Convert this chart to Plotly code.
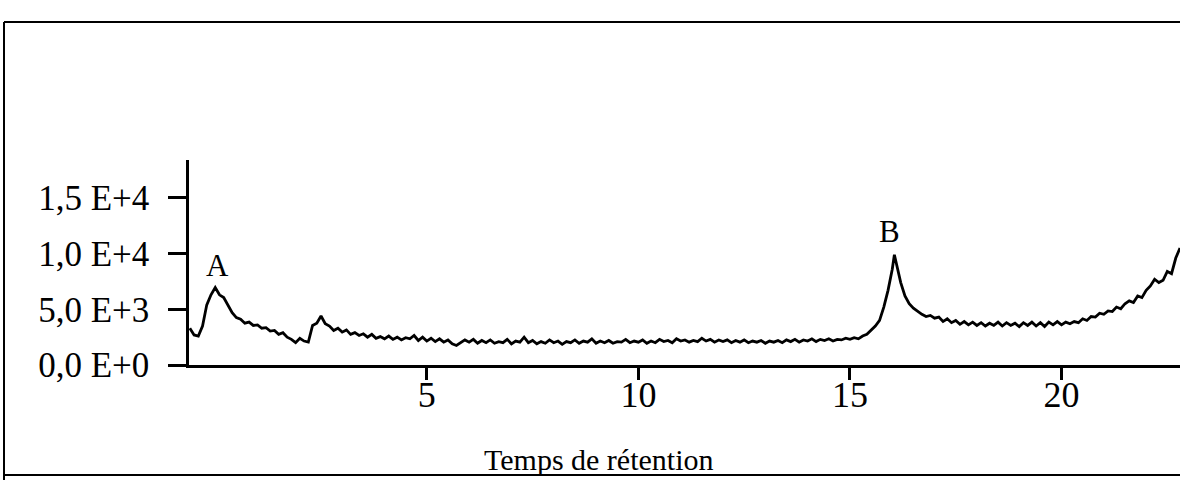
import plotly.graph_objects as go

# retention time (min) and detector signal
temps = [
    -0.6, -0.5, -0.4, -0.3, -0.2, -0.1, 0.0, 0.1, 0.2, 0.3,
    0.4, 0.5, 0.6, 0.7, 0.8, 0.9, 1.0, 1.1, 1.2, 1.3,
    1.4, 1.5, 1.6, 1.7, 1.8, 1.9, 2.0, 2.1, 2.2, 2.3,
    2.4, 2.5, 2.6, 2.7, 2.8, 2.9, 3.0, 3.1, 3.2, 3.3,
    3.4, 3.5, 3.6, 3.7, 3.8, 3.9, 4.0, 4.1, 4.2, 4.3,
    4.4, 4.5, 4.6, 4.7, 4.8, 4.9, 5.0, 5.1, 5.2, 5.3,
    5.4, 5.5, 5.6, 5.7, 5.8, 5.9, 6.0, 6.1, 6.2, 6.3,
    6.4, 6.5, 6.6, 6.7, 6.8, 6.9, 7.0, 7.1, 7.2, 7.3,
    7.4, 7.5, 7.6, 7.7, 7.8, 7.9, 8.0, 8.1, 8.2, 8.3,
    8.4, 8.5, 8.6, 8.7, 8.8, 8.9, 9.0, 9.1, 9.2, 9.3,
    9.4, 9.5, 9.6, 9.7, 9.8, 9.9, 10.0, 10.1, 10.2, 10.3,
    10.4, 10.5, 10.6, 10.7, 10.8, 10.9, 11.0, 11.1, 11.2, 11.3,
    11.4, 11.5, 11.6, 11.7, 11.8, 11.9, 12.0, 12.1, 12.2, 12.3,
    12.4, 12.5, 12.6, 12.7, 12.8, 12.9, 13.0, 13.1, 13.2, 13.3,
    13.4, 13.5, 13.6, 13.7, 13.8, 13.9, 14.0, 14.1, 14.2, 14.3,
    14.4, 14.5, 14.6, 14.7, 14.8, 14.9, 15.0, 15.1, 15.2, 15.3,
    15.4, 15.5, 15.6, 15.7, 15.8, 15.9, 16.0, 16.05, 16.1, 16.2,
    16.3, 16.4, 16.5, 16.6, 16.7, 16.8, 16.9, 17.0, 17.1, 17.2,
    17.3, 17.4, 17.5, 17.6, 17.7, 17.8, 17.9, 18.0, 18.1, 18.2,
    18.3, 18.4, 18.5, 18.6, 18.7, 18.8, 18.9, 19.0, 19.1, 19.2,
    19.3, 19.4, 19.5, 19.6, 19.7, 19.8, 19.9, 20.0, 20.1, 20.2,
    20.3, 20.4, 20.5, 20.6, 20.7, 20.8, 20.9, 21.0, 21.1, 21.2,
    21.3, 21.4, 21.5, 21.6, 21.7, 21.8, 21.9, 22.0, 22.1, 22.2,
    22.3, 22.4, 22.5, 22.6, 22.7, 22.8,
]
signal = [
    3300, 2700, 2600, 3500, 5400, 6300, 6950, 6300, 6050, 5350,
    4700, 4250, 4100, 3750, 3850, 3550, 3600, 3300, 3350, 3050,
    3100, 2750, 2900, 2500, 2300, 2000, 2400, 2150, 2050, 3550,
    3750, 4400, 3700, 3500, 3100, 3300, 2950, 3150, 2750, 2900,
    2650, 2800, 2500, 2750, 2400, 2550, 2350, 2600, 2300, 2500,
    2250, 2450, 2350, 2650, 2200, 2500, 2150, 2400, 2100, 2350,
    2050, 2250, 1900, 1750, 2000, 2250, 2050, 2300, 1950, 2200,
    2000, 2250, 1950, 2100, 2000, 2300, 1900, 2150, 2050, 2500,
    2000, 2200, 1900, 2100, 1950, 2250, 2000, 2150, 1850, 2100,
    2000, 2250, 1950, 2150, 2050, 2350, 1950, 2150, 2000, 2200,
    1950, 2100, 2050, 2300, 2000, 2150, 2050, 2250, 1950, 2150,
    2000, 2300, 2100, 2200, 2000, 2350, 2150, 2250, 2050, 2200,
    2100, 2400, 2150, 2300, 2050, 2250, 2100, 2250, 2000, 2200,
    2050, 2250, 2000, 2150, 2050, 2200, 1950, 2150, 2050, 2200,
    2000, 2250, 2100, 2300, 2050, 2250, 2150, 2350, 2100, 2300,
    2200, 2350, 2150, 2300, 2250, 2400, 2300, 2450, 2350, 2600,
    2750, 3100, 3500, 4000, 5200, 6700, 8600, 9900, 9000, 7400,
    6200, 5500, 5100, 4800, 4550, 4350, 4450, 4200, 4300, 3900,
    4150, 3800, 4000, 3650, 3900, 3600, 3850, 3550, 3800, 3500,
    3750, 3550, 3850, 3500, 3800, 3550, 3750, 3450, 3800, 3550,
    3850, 3500, 3800, 3450, 3850, 3600, 3900, 3600, 3850, 3700,
    3900, 3800, 4150, 4000, 4350, 4300, 4650, 4550, 4850, 4800,
    5200, 5050, 5500, 5750, 5600, 6200, 6050, 6700, 7100, 7700,
    7400, 7600, 8400, 8200, 9600, 10500,
]

x_ticks = [5, 10, 15, 20]
y_ticks = [0, 5000, 10000, 15000]
y_tick_labels = ['0,0 E+0', '5,0 E+3', '1,0 E+4', '1,5 E+4']
peak_names = ['A', 'B']
peak_x = [0.05, 15.93]
peak_y = [8900, 11950]

serif = 'Liberation Serif'

# plot area in pixels, used for the frame around the figure
L, R, T, B = 189, 1180, 160, 365


def px(x):
    return (x - L) / (R - L)


def py(y):
    return (B - y) / (B - T)


fig = go.Figure()
fig.add_trace(go.Scatter(x=temps, y=signal, mode='lines',
                         line=dict(color='black', width=2.8), showlegend=False))

for name, xv, yv in zip(peak_names, peak_x, peak_y):
    fig.add_annotation(x=xv, y=yv, text=name, showarrow=False, yanchor='middle',
                       font=dict(family=serif, size=31, color='black'))

fig.add_annotation(x=9.07, y=py(459), xref='x', yref='paper', text='Temps de rétention',
                   showarrow=False, yanchor='middle',
                   font=dict(family=serif, size=30, color='black'))

frame = dict(type='line', xref='paper', yref='paper', line=dict(color='black', width=2))
fig.add_shape(**frame, x0=px(4), y0=py(22), x1=px(1180), y1=py(22))
fig.add_shape(**frame, x0=px(4), y0=py(22), x1=px(4), y1=py(480))
fig.add_shape(**frame, x0=px(4), y0=py(475), x1=px(1180), y1=py(475))

fig.update_layout(
    width=1180, height=480,
    margin=dict(l=L, r=1180 - R, t=T, b=480 - B, autoexpand=False),
    plot_bgcolor='white', paper_bgcolor='white',
    xaxis=dict(range=[-0.62, 22.80], showgrid=False, zeroline=False,
               showline=True, linecolor='black', linewidth=2.5,
               ticks='outside', ticklen=12, tickwidth=2.5, tickcolor='black',
               tickvals=x_ticks, ticktext=[str(v) for v in x_ticks], ticklabelstandoff=-16,
               tickfont=dict(family=serif, size=36, color='black')),
    yaxis=dict(range=[0, 18400], showgrid=False, zeroline=False,
               showline=True, linecolor='black', linewidth=2.5,
               ticks='outside', ticklen=18, tickwidth=2.5, tickcolor='black',
               tickvals=y_ticks, ticktext=y_tick_labels, ticklabelstandoff=12,
               tickfont=dict(family=serif, size=35, color='black')),
)

fig.write_html("out.html", config={'displayModeBar': False},
               post_script="document.body.style.margin = '0';")
